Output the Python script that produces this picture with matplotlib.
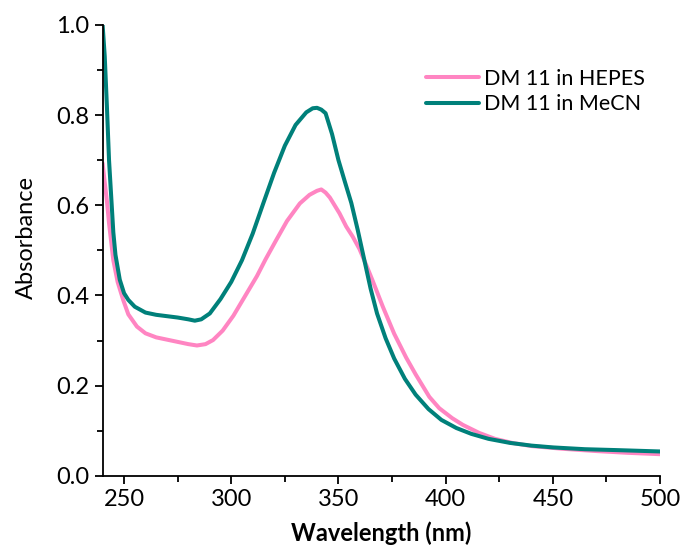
import matplotlib
matplotlib.use("Agg")
import matplotlib.pyplot as plt
from matplotlib.ticker import MultipleLocator, FormatStrFormatter

plt.rcParams['font.family'] = ['Lato', 'DejaVu Sans']

# DM 11 in MeCN
wl_mecn = [240, 241, 242, 243, 244, 245, 246, 248, 250, 252, 255, 260, 265, 270, 275,
           280, 283, 286, 290, 295, 300, 305, 310, 315, 320, 325, 330, 335, 338, 340,
           342, 344, 347, 350, 353, 356, 359, 362, 365, 368, 372, 376, 381, 386, 392,
           398, 405, 412, 420, 430, 440, 450, 465, 480, 500]
abs_mecn = [1.0, 0.93, 0.82, 0.70, 0.62, 0.54, 0.49, 0.435, 0.405, 0.39, 0.375, 0.362,
            0.357, 0.354, 0.351, 0.347, 0.344, 0.347, 0.36, 0.392, 0.43, 0.478, 0.537,
            0.605, 0.672, 0.732, 0.778, 0.806, 0.815, 0.816, 0.812, 0.804, 0.758, 0.70,
            0.652, 0.605, 0.545, 0.48, 0.415, 0.36, 0.305, 0.26, 0.215, 0.18, 0.148,
            0.124, 0.106, 0.093, 0.082, 0.073, 0.067, 0.063, 0.059, 0.057, 0.054]

# DM 11 in HEPES
wl_hepes = [240, 241, 242, 243, 245, 247, 249.6, 252, 256, 260, 265, 270, 275, 280, 284,
            288, 291.5, 296, 301, 306, 312, 316, 321, 326, 332, 336.5, 340, 342, 344,
            346, 350.5, 353.6, 356.7, 359.8, 363, 366, 370.7, 376, 381.6, 386, 392.4,
            397, 403, 408, 415.7, 423, 431, 440, 454.5, 470, 485, 500]
abs_hepes = [0.693, 0.65, 0.61, 0.56, 0.478, 0.43, 0.39, 0.358, 0.331, 0.316, 0.307,
             0.302, 0.297, 0.292, 0.289, 0.292, 0.301, 0.322, 0.355, 0.395, 0.443,
             0.48, 0.523, 0.565, 0.604, 0.623, 0.632, 0.635, 0.628, 0.617, 0.582, 0.553,
             0.530, 0.503, 0.467, 0.432, 0.375, 0.315, 0.262, 0.225, 0.175, 0.150,
             0.128, 0.113, 0.095, 0.082, 0.073, 0.066, 0.060, 0.055, 0.051, 0.048]

fig = plt.figure(figsize=(6.84, 5.52), dpi=100)
ax = fig.add_axes([0.150, 0.138, 0.815, 0.817])

ax.plot(wl_hepes, abs_hepes, color='#FF85C2', lw=2.9, label='DM 11 in HEPES',
        solid_capstyle='round', solid_joinstyle='round')
ax.plot(wl_mecn, abs_mecn, color='#00807A', lw=2.9, label='DM 11 in MeCN',
        solid_capstyle='round', solid_joinstyle='round')

ax.set_xlim(240, 500)
ax.set_ylim(0, 1.0)
ax.xaxis.set_major_locator(MultipleLocator(50))
ax.xaxis.set_minor_locator(MultipleLocator(25))
ax.yaxis.set_major_locator(MultipleLocator(0.2))
ax.yaxis.set_minor_locator(MultipleLocator(0.1))
ax.yaxis.set_major_formatter(FormatStrFormatter('%.1f'))

for s in ['top', 'right']:
    ax.spines[s].set_visible(False)
for s in ['left', 'bottom']:
    ax.spines[s].set_linewidth(1.3)
ax.tick_params(which='major', direction='out', length=6, width=1.3, labelsize=17)
ax.tick_params(which='minor', direction='out', length=4, width=1.3)

ax.set_xlabel('Wavelength (nm)', fontsize=17, fontweight='bold')
ax.set_ylabel('Absorbance', fontsize=17)
ax.xaxis.set_label_coords(0.5, -0.100)
ax.yaxis.set_label_coords(-0.118, 0.528)

leg = ax.legend(loc='upper left', bbox_to_anchor=(0.545, 0.945), frameon=False,
                fontsize=15.5, handlelength=2.45, handletextpad=0.25, labelspacing=0.25)

fig.savefig('out.png', dpi=100)
